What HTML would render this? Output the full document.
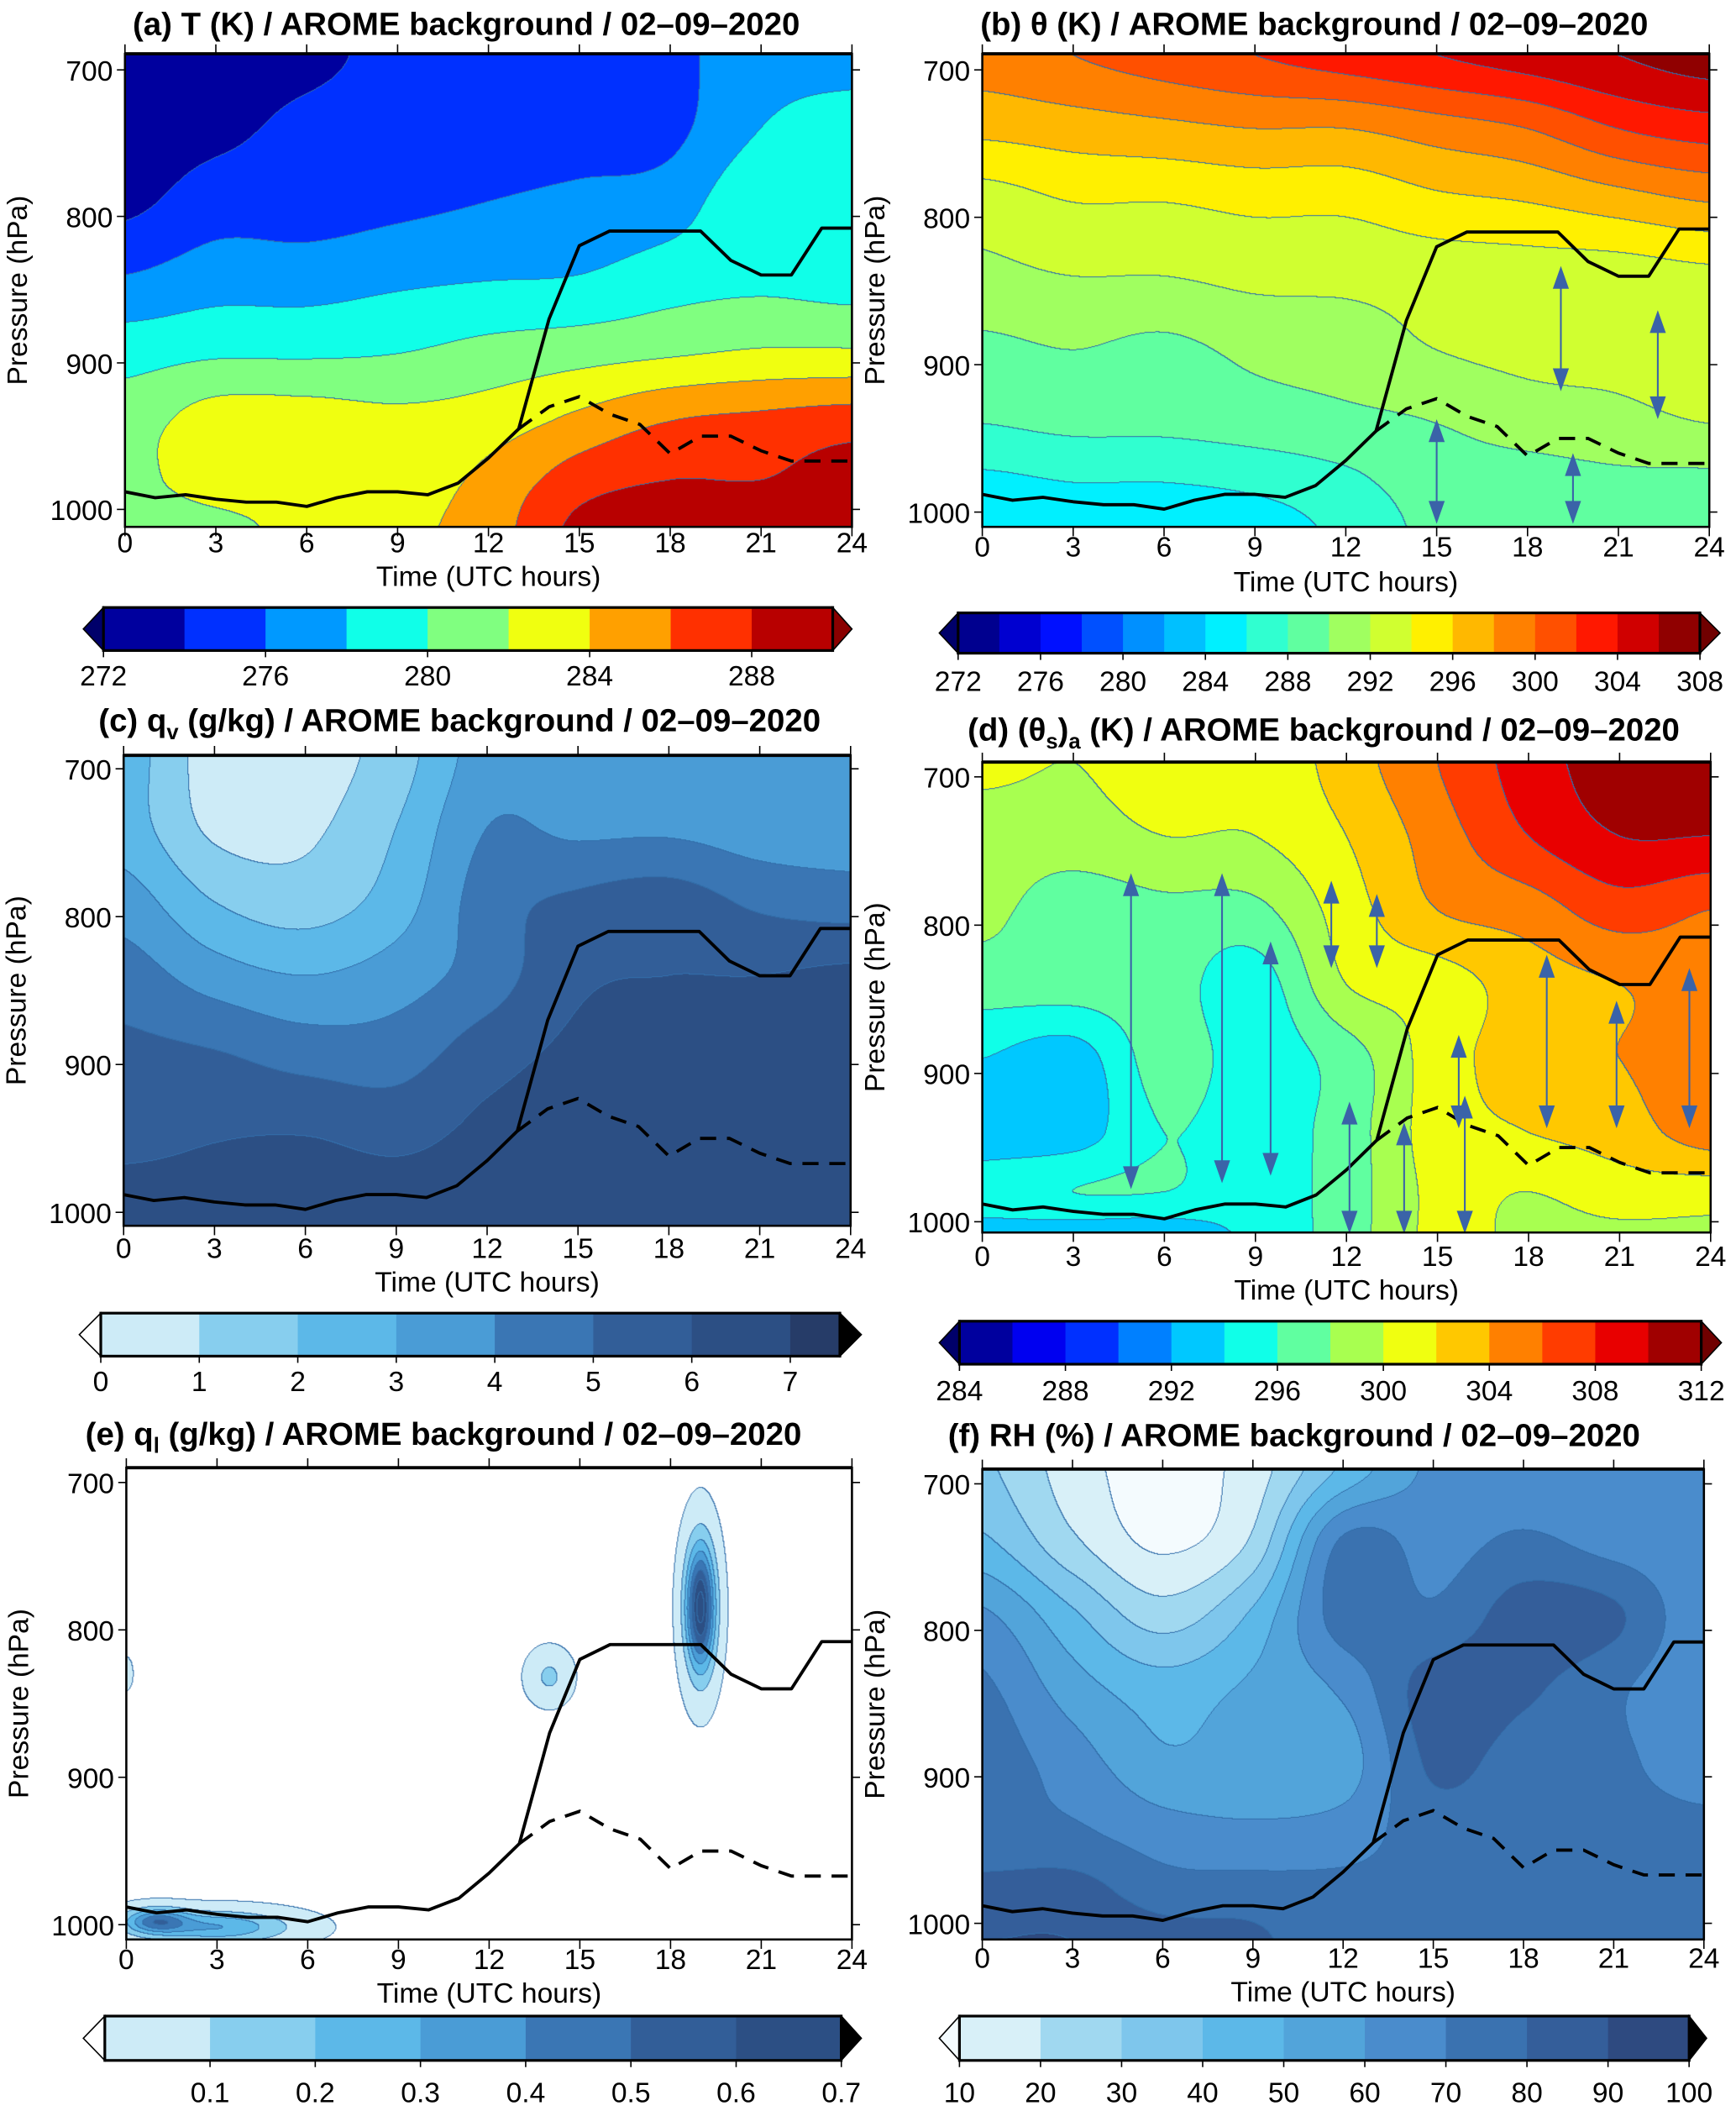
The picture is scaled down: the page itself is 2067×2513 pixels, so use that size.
<!DOCTYPE html>
<html><head><meta charset="utf-8">
<style>
html,body{margin:0;padding:0;background:#fff;}
#page{position:relative;width:2067px;height:2513px;overflow:hidden;}
#inner{position:absolute;left:0;top:0;width:1292px;height:1571px;transform:scale(1.6);transform-origin:0 0;}
canvas{position:absolute;}
svg{position:absolute;left:0;top:0;}
text{font-family:"Liberation Sans",sans-serif;}
</style></head>
<body>
<div id="page"><div id="inner">
<svg id="ov" width="1292" height="1571" viewBox="0 0 1292 1571"></svg>
</div></div>
<script>
// ---------- data ----------
const HOURS=[0,3,6,9,12,15,18,21,24];
const PRES=[690,740,790,840,890,940,980,1012];
const tGrid=[
[272.5,273,273.5,274.5,274.5,274.8,275.5,277,277],
[273,273.5,274.5,274.8,274.8,275,275.5,278,279],
[273.5,275,275,275.5,276,276.5,277,279.5,278],
[276,277,277,277.5,277.8,278,279,279.5,279],
[279,279.5,279.5,279.8,280.5,281,281.5,282,282],
[281,283,283,282.5,283,284.5,286,286.5,287],
[281,283.5,283.5,283,284.5,287,288,288,289],
[280,281,283,283.5,285,288.5,289.5,289.5,289.5]];
const thetaGrid=[
[299,300,301,302,303,304,305,306,307],
[296.5,297,297.5,298,298,299,300,302,303],
[293,294,294,294.5,294.5,295.5,296,297,298],
[291.5,292,292,292.5,292.5,292.8,293,293,293.5],
[289.5,290,289.5,290.5,291,292,292.5,292.5,292.8],
[288,288.5,288.5,289,289.5,290,291,291.5,292],
[285.5,286,286,286.5,287.5,289,289,289.5,289.5],
[284,284.5,284.5,285,286.5,288.5,288.5,289,289]];
const qvGrid=[
[2.5,0.5,0.5,1.5,3.5,3.5,3,3.5,3.5],
[2.5,0.8,0.8,2,4,3.8,3.8,3.5,3.5],
[3.5,2,1.5,2.5,4.5,5.2,5.5,4.8,4.5],
[4.5,3.5,3,3.5,4.5,5.8,6,6,6.2],
[5.2,5,4.5,4.5,5.5,6.2,6.3,6.3,6.4],
[5.5,5.8,5.8,5.5,6.2,6.5,6.5,6.5,6.5],
[6.2,6.3,6.5,6.3,6.5,6.5,6.5,6.5,6.5],
[6.5,6.5,6.5,6.5,6.5,6.5,6.5,6.5,6.5]];
const thetasGrid=[
[300.5,300,301,300.5,303,306,309,311,311],
[299,299,300,300,302,305,308,310,310],
[298.5,297,297.5,297.5,301,304,305,307,306],
[297,297,297,295,300,301,303,304,305],
[294,293,297,295,297,301,303,304,305],
[293,293,296,295,297,301,302,303,305],
[295,296,296,295,297,300.5,300,301,301],
[293,292.5,292.5,294.5,297,300.5,299.5,299.5,299.5]];
const rhGrid=[
[32,15,5,15,42,62,62,62,62],
[42,22,8,22,72,66,72,66,62],
[62,42,25,42,75,72,85,82,62],
[72,55,45,52,62,85,82,72,62],
[75,65,52,55,55,82,75,72,65],
[72,72,65,62,65,75,72,73,73],
[85,85,75,75,73,73,73,73,73],
[90,90,85,82,73,73,73,73,73]];
// liquid water blobs: hour, hPa, half-width hours, half-width hPa, peak g/kg
const qlT=[19,14,3,1,0];
const qlP=[785,832,1002,998,830];
const qlRT=[0.45,0.6,2.2,1,0.25];
const qlRP=[40,15,10,8,12];
const qlPeak=[0.75,0.12,0.3,0.4,0.03];
// boundary layer lines
const blTime=[0,1,2,3,4,5,6,7,8,9,10,11,12,13,14,15,16,17,18,19,20,21,22,23,24];
const blPres=[988,992,990,993,995,995,998,992,988,988,990,982,965,945,870,820,810,810,810,810,830,840,840,808,808];
const dashTime=[13,14,15,16,17,18,19,20,21,22,23,24];
const dashPres=[945,930,923,935,942,962,950,950,960,967,967,967];
// arrows: hour, top hPa, bottom hPa
const arrB_t=[15,19.1,19.5,22.3];
const arrB_top=[937,833,960,863];
const arrB_bot=[1008,918,1008,937];
const arrD_t=[4.9,7.9,9.5,11.5,13,12.1,13.9,15.7,15.9,18.6,20.9,23.3];
const arrD_top=[765,765,811,770,779,919,933,874,915,820,851,829];
const arrD_bot=[978,974,969,829,829,1008,1008,937,1008,937,937,937];
// colour scales
const colA=['#00009e','#0030ff','#0099ff','#10ffe8','#80ff80','#f0ff10','#ffa000','#ff3000','#b80000'];
const colB=['#00008f','#0000d0','#0010ff','#0050ff','#0090ff','#00c0ff','#00f0ff','#30ffd0','#60ffa0','#a0ff60','#d0ff30','#fff000','#ffb800','#ff8000','#ff5000','#ff1800','#d00000','#900000'];
const colC=['#cdebf7','#87ceee','#5cb8e8','#4a9cd6','#3a76b4','#325e98','#2c4f84','#263c68'];
const colD=['#00009e','#0000f0','#0030ff','#0080ff','#00c8ff','#10ffe8','#60ffa0','#a8ff50','#f0ff10','#ffc800','#ff8000','#ff3c00','#e80000','#a00000'];
const colE=['#cdebf7','#87ceee','#5cb8e8','#4a9cd6','#3a76b4','#325e98','#2c4f84'];
const colF=['#d8f0f8','#a0d8f0','#7ec6ec','#5cb8e8','#52a4da','#4a8ccc','#3a72b0','#345e9a','#2e4a80'];
const tickA=[272,276,280,284,288];
const tickB=[272,276,280,284,288,292,296,300,304,308];
const tickC=[0,1,2,3,4,5,6,7];
const tickD=[284,288,292,296,300,304,308,312];
const tickE=[0.1,0.2,0.3,0.4,0.5,0.6,0.7];
const tickF=[10,20,30,40,50,60,70,80,90,100];
const timeTicks=[0,3,6,9,12,15,18,21,24];
const presTicks=[700,800,900,1000];

// ---------- helpers ----------
const NS='http://www.w3.org/2000/svg';
const ov=document.getElementById('ov');
function el(tag,attrs,parent){const e=document.createElementNS(NS,tag);for(const k in attrs)e.setAttribute(k,attrs[k]);(parent||ov).appendChild(e);return e;}
function hex(c){return [parseInt(c.substr(1,2),16),parseInt(c.substr(3,2),16),parseInt(c.substr(5,2),16)];}
function cr(a,b,c,d,t){return b+0.5*t*(c-a+t*(2*a-5*b+4*c-d+t*(3*(b-c)+d-a)));}
function gridVal(g,t,p){
  let fx=Math.max(0,Math.min(8,t/3));
  let fy=0;
  if(p<=PRES[0])fy=0;else if(p>=PRES[PRES.length-1])fy=PRES.length-1;
  else{for(let i=0;i<PRES.length-1;i++){if(p>=PRES[i]&&p<=PRES[i+1]){fy=i+(p-PRES[i])/(PRES[i+1]-PRES[i]);break;}}}
  const ix=Math.min(7,Math.floor(fx)),tx=fx-ix,iy=Math.min(PRES.length-2,Math.floor(fy)),ty=fy-iy;
  const G=(r,c)=>g[Math.max(0,Math.min(g.length-1,r))][Math.max(0,Math.min(8,c))];
  const rows=[];
  for(let r=iy-1;r<=iy+2;r++)rows.push(cr(G(r,ix-1),G(r,ix),G(r,ix+1),G(r,ix+2),tx));
  return cr(rows[0],rows[1],rows[2],rows[3],ty);
}
function qlVal(t,p){let v=0;for(let i=0;i<qlT.length;i++){const dx=(t-qlT[i])/qlRT[i],dy=(p-qlP[i])/qlRP[i];v+=qlPeak[i]*Math.exp(-(dx*dx+dy*dy));}return v;}

// panel geometry
const panels=[
 {id:'a',x0:93,x1:634,yT:40,yB:392,y7:52,y10:379,f:(t,p)=>gridVal(tGrid,t,p),lo:272,step:2,cols:colA,under:'#00006a',over:'#8a0000',
  tl:411,tt:436,
  cb:{x0:77,bw:60.3,x1:619.7,y:452,h:32,lab:503,ticks:tickA,tipL:62,tipR:634}},
 {id:'b',x0:731,x1:1272,yT:40,yB:392,y7:52,y10:381,f:(t,p)=>gridVal(thetaGrid,t,p),lo:272,step:2,cols:colB,under:'#00006a',over:'#700000',
  tl:414,tt:440,
  cb:{x0:713,bw:30.67,x1:1265,y:456,h:30,lab:507,ticks:tickB,tipL:699,tipR:1280}},
 {id:'c',x0:92,x1:633,yT:562,yB:912,y7:572,y10:902,f:(t,p)=>gridVal(qvGrid,t,p),lo:0,step:1,cols:colC,under:'#ffffff',over:'#000000',
  tl:936,tt:961,
  cb:{x0:75,bw:73.3,x1:625,y:977,h:32,lab:1028,ticks:tickC,tipL:59,tipR:641}},
 {id:'d',x0:731,x1:1273,yT:567,yB:917,y7:578,y10:909,f:(t,p)=>gridVal(thetasGrid,t,p),lo:284,step:2,cols:colD,under:'#00006a',over:'#700000',
  tl:942,tt:967,
  cb:{x0:714,bw:39.43,x1:1266,y:983,h:32,lab:1035,ticks:tickD,tipL:699,tipR:1281}},
 {id:'e',x0:94,x1:634,yT:1092,yB:1443,y7:1103,y10:1432,f:(t,p)=>qlVal(t,p),lo:0,step:0.1,cols:colE,under:'#ffffff',over:'#000000',white:0.012,
  tl:1465,tt:1490,
  cb:{x0:78,bw:78.3,x1:626,y:1500,h:33,lab:1557,ticks:tickE,tipL:62,tipR:641}},
 {id:'f',x0:731,x1:1268,yT:1093,yB:1443,y7:1104,y10:1431,f:(t,p)=>gridVal(rhGrid,t,p),lo:10,step:10,cols:colF,under:'#f4fbfe',over:'#000000',
  tl:1464,tt:1489,
  cb:{x0:714,bw:60.33,x1:1257,y:1500,h:33,lab:1557,ticks:tickF,tipL:699,tipR:1270}}
];

const inner=document.getElementById('inner');
panels.forEach(P=>{
  const w=P.x1-P.x0,h=P.yB-P.yT,S=1.6;
  const W=Math.round(w*S),H=Math.round(h*S);
  const cv=document.createElement('canvas');
  cv.width=W;cv.height=H;
  cv.style.left=P.x0+'px';cv.style.top=P.yT+'px';cv.style.width=w+'px';cv.style.height=h+'px';
  
  
  inner.insertBefore(cv,ov);
  const ctx=cv.getContext('2d');const img=ctx.createImageData(W,H);
  const idx=new Int16Array(W*H);const n=P.cols.length;
  const rgb=P.cols.map(hex),uc=hex(P.under);
  for(let py=0;py<H;py++){
    const yd=P.yT+(py+0.5)/S;const p=700+(yd-P.y7)/(P.y10-P.y7)*300;
    for(let px=0;px<W;px++){
      const t=((px+0.5)/S)/w*24;
      const v=P.f(t,p);
      let k=Math.floor((v-P.lo)/P.step+1e-4);
      if(P.white!==undefined){k=v<P.white?-1:Math.max(0,k);}
      if(k<-1)k=-1;if(k>n)k=n;
      idx[py*W+px]=k;
    }
  }
  for(let i=0;i<W*H;i++){
    const k=idx[i];const c=k<0?uc:(k>=n?rgb[n-1]:rgb[k]);
    let line=false;const px=i%W;
    if(px<W-1&&idx[i+1]!==k)line=true;
    if(i+W<W*H&&idx[i+W]!==k)line=true;
    const o=i*4;
    if(line){img.data[o]=50;img.data[o+1]=110;img.data[o+2]=170;}
    else{img.data[o]=c[0];img.data[o+1]=c[1];img.data[o+2]=c[2];}
    img.data[o+3]=255;
  }
  ctx.putImageData(img,0,0);

  const X=t=>P.x0+t/24*w;
  const Y=p=>P.y7+(p-700)/300*(P.y10-P.y7);
  const g=el('g',{});
  
  

  let d='';blTime.forEach((t,i)=>{d+=(i?'L':'M')+X(t).toFixed(1)+' '+Y(blPres[i]).toFixed(1);});
  const bl=el('path',{d:d,fill:'none',stroke:'#000','stroke-width':2.4,'stroke-linejoin':'round'},g);
  
  
  d='';dashTime.forEach((t,i)=>{d+=(i?'L':'M')+X(t).toFixed(1)+' '+Y(dashPres[i]).toFixed(1);});
  const dl=el('path',{d:d,fill:'none',stroke:'#000','stroke-width':2.4,'stroke-dasharray':'12 8'},g);
  
  

  const arrs=P.id==='b'?[arrB_t,arrB_top,arrB_bot]:(P.id==='d'?[arrD_t,arrD_top,arrD_bot]:null);
  if(arrs){arrs[0].forEach((t,i)=>{
    const x=X(t),y1=Y(arrs[1][i]),y2=Y(arrs[2][i]);
    const ag=el('g',{},g);
    
    
    el('line',{x1:x,y1:y1+10,x2:x,y2:y2-10,stroke:'#3a63a8','stroke-width':1.3},ag);
    el('polygon',{points:`${x},${y1} ${x-6},${y1+17} ${x+6},${y1+17}`,fill:'#3a63a8'},ag);
    el('polygon',{points:`${x},${y2} ${x-6},${y2-17} ${x+6},${y2-17}`,fill:'#3a63a8'},ag);
  });}

  const fr=el('rect',{x:P.x0,y:P.yT,width:w,height:h,fill:'none',stroke:'#000','stroke-width':1.6},g);
  
  
  el('line',{x1:P.x0,y1:P.yT,x2:P.x1,y2:P.yT,stroke:'#000','stroke-width':2.4},g);
  timeTicks.forEach(t=>{
    el('line',{x1:X(t),y1:P.yB,x2:X(t),y2:P.yB+7,stroke:'#000','stroke-width':1},g);
    el('line',{x1:X(t),y1:P.yT,x2:X(t),y2:P.yT-7,stroke:'#000','stroke-width':1},g);
    const tl=el('text',{x:X(t),y:P.tl,'font-size':21,'text-anchor':'middle'},g);
    tl.textContent=t;
    
    
  });
  presTicks.forEach(p=>{
    el('line',{x1:P.x0-6,y1:Y(p),x2:P.x0,y2:Y(p),stroke:'#000','stroke-width':1},g);
    el('line',{x1:P.x1,y1:Y(p),x2:P.x1+6,y2:Y(p),stroke:'#000','stroke-width':1},g);
    const yl=el('text',{x:P.x0-9,y:Y(p)+8,'font-size':21,'text-anchor':'end'},g);
    yl.textContent=p;
    
    
  });
  const xt=el('text',{x:(P.x0+P.x1)/2,y:P.tt,'font-size':21,'text-anchor':'middle'},g);
  xt.textContent='Time (UTC hours)';
  
  
  const ax=P.x0-73,ay=(P.yT+P.yB)/2;
  const yt=el('text',{x:ax,y:ay,'font-size':21,'text-anchor':'middle',transform:`rotate(-90 ${ax} ${ay})`},g);
  yt.textContent='Pressure (hPa)';
  
  

  const C=P.cb;const cg=el('g',{},g);
  
  
  const my=C.y+C.h/2;
  el('polygon',{points:`${C.tipL},${my} ${C.x0},${C.y} ${C.x0},${C.y+C.h}`,fill:P.under,stroke:'#000','stroke-width':1},cg);
  el('polygon',{points:`${C.tipR},${my} ${C.x1},${C.y} ${C.x1},${C.y+C.h}`,fill:P.over,stroke:'#000','stroke-width':1},cg);
  P.cols.forEach((c,i)=>{
    const xa=C.x0+i*C.bw;const xb=Math.min(C.x1,xa+C.bw);
    if(xa>=C.x1)return;
    const r=el('rect',{x:xa,y:C.y,width:xb-xa+0.3,height:C.h,fill:c},cg);
    
    
  });
  el('rect',{x:C.x0,y:C.y,width:C.x1-C.x0,height:C.h,fill:'none',stroke:'#000','stroke-width':2},cg);
  C.ticks.forEach(v=>{
    const x=C.x0+(v-P.lo)/P.step*C.bw;
    el('line',{x1:x,y1:C.y+C.h,x2:x,y2:C.y+C.h+5,stroke:'#000','stroke-width':1},cg);
    const lt=el('text',{x:x,y:C.lab+7,'font-size':21,'text-anchor':'middle'},cg);
    lt.textContent=v;
    
    
  });
});

function mkTitle(x,y,parts,name){
  const t=document.createElementNS(NS,'text');
  t.setAttribute('x',x);t.setAttribute('y',y);t.setAttribute('font-size',24);t.setAttribute('font-weight','bold');t.setAttribute('text-anchor','middle');
  parts.forEach(pt=>{const s=document.createElementNS(NS,'tspan');s.textContent=pt[0];if(pt[1])s.setAttribute('dy',pt[1]);if(pt[2])s.setAttribute('font-size',pt[2]);t.appendChild(s);});
  
  
  ov.appendChild(t);
}
mkTitle(347,26,[['(a) T (K) / AROME background / 02\u201309\u20132020']],'title-a');
mkTitle(978,26,[['(b) \u03b8 (K) / AROME background / 02\u201309\u20132020']],'title-b');
mkTitle(342,544,[['(c) q'],['v',6,16],[' (g/kg) / AROME background / 02\u201309\u20132020',-6,24]],'title-c');
mkTitle(985,551,[['(d) (\u03b8'],['s',6,16],[')',-6,24],['a',6,16],[' (K) / AROME background / 02\u201309\u20132020',-6,24]],'title-d');
mkTitle(330,1075,[['(e) q'],['l',6,16],[' (g/kg) / AROME background / 02\u201309\u20132020',-6,24]],'title-e');
mkTitle(963,1076,[['(f) RH (%) / AROME background / 02\u201309\u20132020']],'title-f');
</script>
</body></html>
